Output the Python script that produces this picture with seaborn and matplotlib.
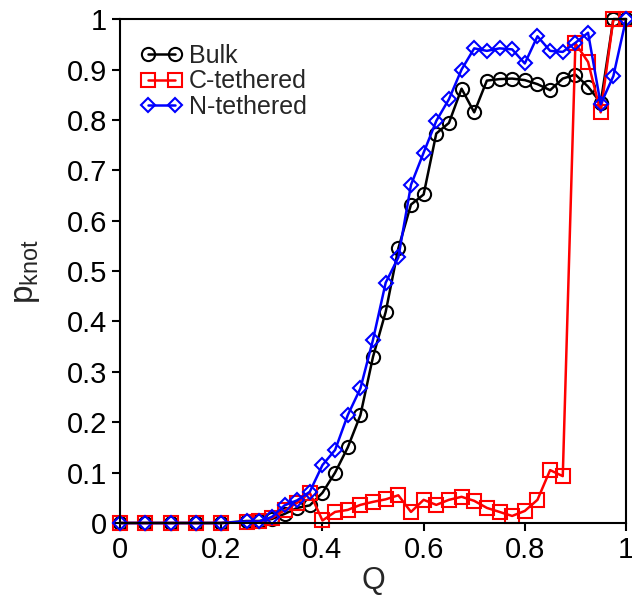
import matplotlib
matplotlib.use('Agg')
import matplotlib.pyplot as plt
import seaborn as sns
import numpy as np

# Q values: coarse steps at first, then 0.025 steps from 0.25
q = [0.0, 0.05, 0.1, 0.15, 0.2,
     0.25, 0.275, 0.3, 0.325, 0.35, 0.375, 0.4, 0.425, 0.45, 0.475,
     0.5, 0.525, 0.55, 0.575, 0.6, 0.625, 0.65, 0.675, 0.7, 0.725,
     0.75, 0.775, 0.8, 0.825, 0.85, 0.875, 0.9, 0.925, 0.95, 0.975, 1.0]

bulk = [0, 0, 0, 0, 0,
        0.004, 0.004, 0.008, 0.018, 0.03, 0.035, 0.06, 0.10, 0.15, 0.214,
        0.33, 0.419, 0.545, 0.632, 0.652, 0.773, 0.794, 0.862, 0.815, 0.878,
        0.881, 0.882, 0.879, 0.871, 0.859, 0.882, 0.89, 0.866, 0.834, 1.0, 1.0]

c_teth = [0, 0, 0, 0, 0,
          0.002, 0.003, 0.01, 0.025, 0.04, 0.06, 0.005, 0.022, 0.026, 0.036,
          0.042, 0.047, 0.055, 0.022, 0.046, 0.036, 0.046, 0.052, 0.044, 0.03,
          0.022, 0.014, 0.024, 0.046, 0.105, 0.093, 0.952, 0.915, 0.815, 1.0, 1.0]

n_teth = [0, 0, 0, 0, 0,
          0.003, 0.003, 0.012, 0.035, 0.045, 0.062, 0.115, 0.145, 0.214, 0.267,
          0.364, 0.477, 0.527, 0.671, 0.735, 0.798, 0.841, 0.90, 0.942, 0.937,
          0.942, 0.94, 0.912, 0.966, 0.937, 0.935, 0.953, 0.973, 0.831, 0.887, 1.0]

sns.set_style('ticks')
plt.rcParams['font.family'] = ['Liberation Sans', 'DejaVu Sans']

fig = plt.figure(figsize=(6.32, 5.98), dpi=100)
ax = fig.add_axes([0.19, 0.1254, 0.8005, 0.8426])

series = [(bulk, 'Bulk', 'black', 'o'),
          (c_teth, 'C-tethered', 'red', 's'),
          (n_teth, 'N-tethered', 'blue', 'D')]
for vals, name, col, mk in series:
    ms = 7.5 if mk == 'D' else 9.5
    sns.lineplot(x=q, y=vals, ax=ax, color=col, marker=mk, markersize=ms,
                 markerfacecolor='none', markeredgecolor=col, markeredgewidth=1.5,
                 linewidth=1.8, label=name, clip_on=False)

ax.set_xlim(0, 1)
ax.set_ylim(0, 1)
ax.set_xticks(np.arange(0, 1.01, 0.2))
ax.set_yticks(np.arange(0, 1.01, 0.1))
ax.set_xticklabels([f'{v:g}' for v in np.round(np.arange(0, 1.01, 0.2), 1)])
ax.set_yticklabels([f'{v:g}' for v in np.round(np.arange(0, 1.01, 0.1), 1)])
ax.tick_params(axis='both', direction='out', length=6, width=1.5, labelsize=21, colors='black')
for s in ax.spines.values():
    s.set_linewidth(1.5)
    s.set_color('black')

ax.set_xlabel('Q', fontsize=22, labelpad=1)
ax.set_ylabel(r'p$_\mathregular{knot}$', fontsize=24, labelpad=18)

ax.legend(loc='upper left', frameon=False, fontsize=18, numpoints=2,
          handlelength=1.7, handletextpad=0.25, labelspacing=0.05,
          borderaxespad=0.4, bbox_to_anchor=(0.0, 0.99))

fig.savefig('out.png', dpi=100)
